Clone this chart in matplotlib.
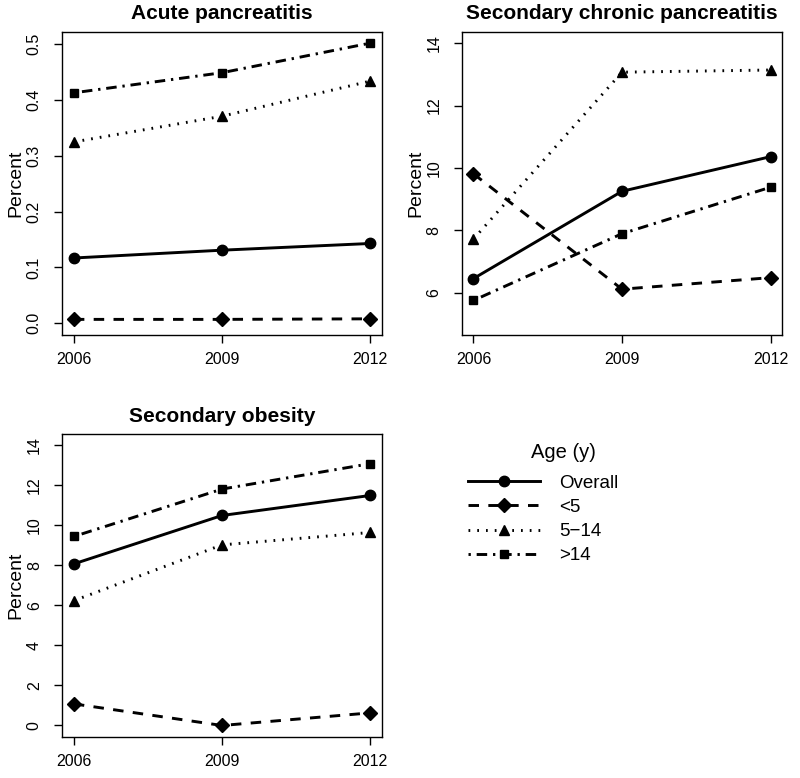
import matplotlib.pyplot as plt
from matplotlib.lines import Line2D

plt.rcParams['font.family'] = ['Liberation Sans', 'DejaVu Sans']

years = [2006, 2009, 2012]
groups = ['Overall', '<5', '5\u221214', '>14']

# Acute pancreatitis (%)
acute_overall = [0.117, 0.131, 0.143]
acute_lt5 = [0.007, 0.007, 0.008]
acute_5_14 = [0.325, 0.371, 0.434]
acute_gt14 = [0.413, 0.449, 0.502]

# Secondary chronic pancreatitis (%)
chronic_overall = [6.45, 9.25, 10.36]
chronic_lt5 = [9.81, 6.11, 6.48]
chronic_5_14 = [7.72, 13.07, 13.14]
chronic_gt14 = [5.75, 7.89, 9.38]

# Secondary obesity (%)
obesity_overall = [8.08, 10.50, 11.50]
obesity_lt5 = [1.08, 0.00, 0.63]
obesity_5_14 = [6.24, 9.03, 9.65]
obesity_gt14 = [9.45, 11.82, 13.09]

styles = [
    dict(linestyle='-', marker='o', markersize=7.5),
    dict(linestyle=(0, (3.6, 3.2)), marker='D', markersize=7),
    dict(linestyle=(0, (0.6, 2.4)), marker='^', markersize=7.5),
    dict(linestyle=(0, (0.8, 2.0, 3.6, 2.0)), marker='s', markersize=6),
]

fig = plt.figure(figsize=(8, 7.78), dpi=100)


def panel(rect, title, series, ylim, yticks, yticklabels):
    ax = fig.add_axes(rect)
    for vals, st in zip(series, styles):
        ax.plot(years, vals, color='black', linewidth=2.1, dash_capstyle='butt', **st)
    ax.set_xlim(2005.76, 2012.24)
    ax.set_ylim(*ylim)
    ax.set_xticks(years)
    ax.set_xticklabels([str(y) for y in years], fontsize=11.5)
    ax.set_yticks(yticks)
    ax.set_yticklabels(yticklabels, fontsize=11.5, rotation=90, va='center')
    ax.tick_params(length=5.5, width=1, pad=7)
    ax.tick_params(axis='y', pad=9)
    ax.set_ylabel('Percent', fontsize=14, labelpad=1.5)
    ax.set_title(title, fontsize=15, fontweight='bold', pad=9)
    for sp in ax.spines.values():
        sp.set_linewidth(1)
    return ax


panel([0.0775, 0.5694, 0.400, 0.3895], 'Acute pancreatitis',
      [acute_overall, acute_lt5, acute_5_14, acute_gt14],
      (-0.021, 0.522), [0, 0.1, 0.2, 0.3, 0.4, 0.5],
      ['0.0', '0.1', '0.2', '0.3', '0.4', '0.5'])

panel([0.577, 0.5694, 0.401, 0.3895], 'Secondary chronic pancreatitis',
      [chronic_overall, chronic_lt5, chronic_5_14, chronic_gt14],
      (4.64, 14.36), [6, 8, 10, 12, 14],
      ['6', '8', '10', '12', '14'])

panel([0.0775, 0.0531, 0.400, 0.3887], 'Secondary obesity',
      [obesity_overall, obesity_lt5, obesity_5_14, obesity_gt14],
      (-0.56, 14.56), [0, 2, 4, 6, 8, 10, 12, 14],
      ['0', '2', '4', '6', '8', '10', '12', '14'])

handles = [Line2D([], [], color='black', linewidth=2.1, **st) for st in styles]
fig.legend(handles, groups, loc='upper left',
           bbox_to_anchor=(0.568, 0.407), frameon=False, fontsize=13.5,
           handlelength=3.85, handletextpad=1.05, labelspacing=0.38,
           borderpad=0.2)
fig.text(563 / 800, 1 - 453 / 778, 'Age (y)', fontsize=14.5,
         ha='center', va='center')

plt.savefig('out.png', dpi=100)
